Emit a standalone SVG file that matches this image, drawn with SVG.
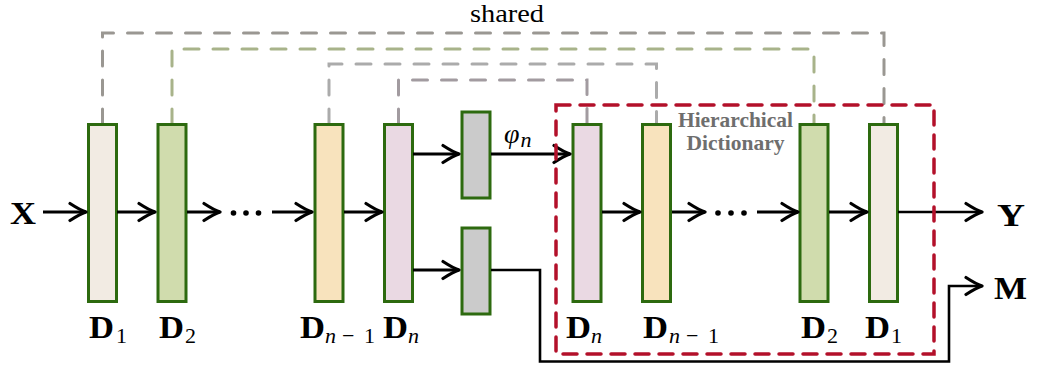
<svg xmlns="http://www.w3.org/2000/svg" width="1038" height="367" viewBox="0 0 1038 367">
<style>
.blk{stroke:#2d6a0f;stroke-width:3}
.ar{fill:none;stroke:#000;stroke-width:3.2}
.thin{fill:none;stroke:#000;stroke-width:2.6}
.sh{fill:none;stroke-width:3;stroke-dasharray:15 14;stroke-linecap:round}
.lbl{font-family:"Liberation Serif",serif;font-weight:bold;font-size:31px;fill:#000}
.sub{font-family:"Liberation Serif",serif;font-weight:normal;font-size:22px;fill:#000}
.it{font-style:italic}
.hd{font-family:"Liberation Serif",serif;font-weight:bold;font-size:22px;fill:#6e6e6e;text-anchor:middle}
</style>
<defs>
<marker id="ah" markerUnits="userSpaceOnUse" viewBox="-18 -11 20 22" markerWidth="20" markerHeight="22" refX="0" refY="0" orient="auto">
<path d="M-16,-8.5 Q-6,-2 0,0 Q-6,2 -16,8.5" fill="none" stroke="#000" stroke-width="3.2" stroke-linecap="round" stroke-linejoin="round"/>
</marker>
</defs>
<g id="shared-links">
<polyline class="sh" stroke="#9a9792" points="102.5,124 102.5,33 884,33 884,124"/>
<polyline class="sh" stroke="#a8b38a" points="172,124 172,49 814,49 814,124"/>
<polyline class="sh" stroke="#ababab" points="329,124 329,64 656.5,64 656.5,124"/>
<polyline class="sh" stroke="#a29ba0" points="398.5,124 398.5,80 587,80 587,124"/>
</g>
<text x="470" y="22" font-family="'Liberation Serif',serif" font-size="26" textLength="74" lengthAdjust="spacingAndGlyphs">shared</text>
<g id="node-D1-left"><rect class="blk" x="88.5" y="124.5" width="28" height="177" fill="#f2ebe3"/><text class="lbl" x="89" y="338" textLength="25" lengthAdjust="spacingAndGlyphs">D</text><text class="sub" x="116" y="343">1</text></g>
<g id="node-D2-left"><rect class="blk" x="158" y="124.5" width="28" height="177" fill="#d0dcad"/><text class="lbl" x="159" y="338" textLength="25" lengthAdjust="spacingAndGlyphs">D</text><text class="sub" x="185" y="343">2</text></g>
<g id="node-Dn1-left"><rect class="blk" x="315" y="124.5" width="28" height="177" fill="#f8e3bd"/><text class="lbl" x="300" y="338" textLength="25" lengthAdjust="spacingAndGlyphs">D</text><text class="sub" x="325" y="343"><tspan class="it">n</tspan><tspan x="342">−</tspan><tspan x="364">1</tspan></text></g>
<g id="node-Dn-left"><rect class="blk" x="383" y="124.5" width="28" height="177" fill="#ead9e3" transform="translate(1.5,0)"/><text class="lbl" x="383" y="338" textLength="25" lengthAdjust="spacingAndGlyphs">D</text><text class="sub it" x="408" y="343">n</text></g>
<g id="node-phi"><rect class="blk" x="462" y="112" width="28" height="86" fill="#cbcbcb"/></g>
<g id="node-M"><rect class="blk" x="462" y="228" width="28" height="86" fill="#cbcbcb"/></g>
<g id="node-Dn-right"><rect class="blk" x="573" y="124.5" width="28" height="177" fill="#ead9e3"/><text class="lbl" x="566" y="338" textLength="25" lengthAdjust="spacingAndGlyphs">D</text><text class="sub it" x="591" y="343">n</text></g>
<g id="node-Dn1-right"><rect class="blk" x="642.5" y="124.5" width="28" height="177" fill="#f8e3bd"/><text class="lbl" x="643" y="338" textLength="25" lengthAdjust="spacingAndGlyphs">D</text><text class="sub" x="669" y="343"><tspan class="it">n</tspan><tspan x="686">−</tspan><tspan x="708">1</tspan></text></g>
<g id="node-D2-right"><rect class="blk" x="800" y="124.5" width="28" height="177" fill="#d0dcad"/><text class="lbl" x="801" y="338" textLength="25" lengthAdjust="spacingAndGlyphs">D</text><text class="sub" x="827" y="343">2</text></g>
<g id="node-D1-right"><rect class="blk" x="869.5" y="124.5" width="28" height="177" fill="#f2ebe3"/><text class="lbl" x="865" y="338" textLength="25" lengthAdjust="spacingAndGlyphs">D</text><text class="sub" x="891" y="343">1</text></g>
<g id="connectors">
<line class="ar" x1="43" y1="212" x2="86" y2="212" marker-end="url(#ah)"/>
<line class="ar" x1="117" y1="212" x2="155" y2="212" marker-end="url(#ah)"/>
<line class="ar" x1="187" y1="212" x2="220" y2="212" marker-end="url(#ah)"/>
<line class="ar" x1="272" y1="212" x2="312" y2="212" marker-end="url(#ah)"/>
<line class="ar" x1="344" y1="212" x2="382" y2="212" marker-end="url(#ah)"/>
<line class="ar" x1="413" y1="154" x2="459" y2="154" marker-end="url(#ah)"/>
<line class="ar" x1="413" y1="270" x2="459" y2="270" marker-end="url(#ah)"/>
<line class="ar" x1="491" y1="154" x2="570" y2="154" marker-end="url(#ah)"/>
<polyline class="thin" points="491,270 540,270 540,361.5 949,361.5 949,286 982,286" marker-end="url(#ah)"/>
<line class="ar" x1="602" y1="212" x2="640" y2="212" marker-end="url(#ah)"/>
<line class="ar" x1="672" y1="212" x2="705" y2="212" marker-end="url(#ah)"/>
<line class="ar" x1="757" y1="212" x2="798" y2="212" marker-end="url(#ah)"/>
<line class="ar" x1="829" y1="212" x2="867" y2="212" marker-end="url(#ah)"/>
<line class="thin" x1="898" y1="212" x2="982" y2="212" marker-end="url(#ah)"/>
</g>
<g id="dots" fill="#000">
<circle cx="233.5" cy="213" r="2.8"/><circle cx="246" cy="213" r="2.8"/><circle cx="258.5" cy="213" r="2.8"/>
<circle cx="718" cy="213" r="2.8"/><circle cx="731" cy="213" r="2.8"/><circle cx="744" cy="213" r="2.8"/>
</g>
<g id="hierarchical-dictionary">
<rect x="556" y="105" width="378" height="249" fill="none" stroke="#b3102a" stroke-width="3.5" stroke-dasharray="14 10" stroke-linecap="round"/>
<text class="hd" x="735.5" y="127" textLength="115" lengthAdjust="spacingAndGlyphs">Hierarchical</text>
<text class="hd" x="735.5" y="150" textLength="98" lengthAdjust="spacingAndGlyphs">Dictionary</text>
</g>
<text class="lbl" x="10" y="224" textLength="26" lengthAdjust="spacingAndGlyphs">X</text>
<text class="lbl" x="997" y="226" textLength="28" lengthAdjust="spacingAndGlyphs">Y</text>
<text class="lbl" x="994" y="299" textLength="33" lengthAdjust="spacingAndGlyphs">M</text>
<text x="504" y="143" font-family="'Liberation Serif',serif" font-style="italic" font-size="28">φ<tspan font-size="22" dx="1" dy="4">n</tspan></text>
</svg>
